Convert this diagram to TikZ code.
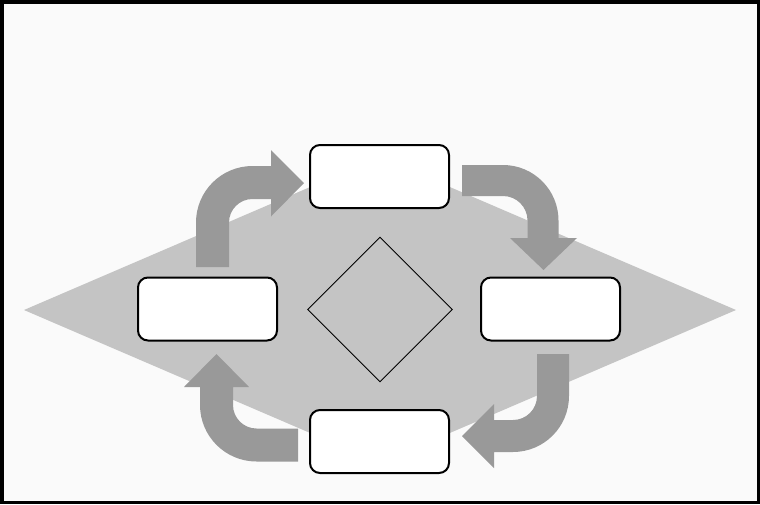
\documentclass[tikz,border=0pt]{standalone}
\usepackage{tikz}
\usetikzlibrary{shapes.geometric}

\definecolor{pagebg}{HTML}{FAFAFA}
\definecolor{rhombgray}{HTML}{C4C4C4}
\definecolor{arrowgray}{HTML}{999999}

\begin{document}
\begin{tikzpicture}[x=1pt, y=-1pt,
        stagebox/.style={draw=black, fill=white, line width=2pt, rounded corners=10pt,
            minimum width=139pt, minimum height=63pt, inner sep=0pt},
        bentarrow/.style={fill=arrowgray, draw=none}]
        \useasboundingbox (0, 0) rectangle (760, 504);
        \draw[line width=3.5pt, fill=pagebg] (1.75, 1.75) rectangle (758.25, 502.25);

        % big backdrop rhombus
        \fill[rhombgray] (24, 310) -- (380, 157) -- (736, 310) -- (380, 463) -- cycle;

        % four bent arrows
        \fill[bentarrow] (196, 267) -- (196, 222.5) arc (180:270:56.5) -- (271, 166) -- (271, 150)
            -- (304, 183) -- (271, 216.5) -- (271, 199) -- (252.5, 199) arc (270:180:23.5)
            -- (229, 267) -- cycle;
        \fill[bentarrow] (462, 165) -- (503, 165) arc (270:360:55.5) -- (558.5, 238) -- (577, 238)
            -- (543.5, 270) -- (510, 238) -- (527.5, 238) -- (527.5, 220.5) arc (0:-90:24.5)
            -- (462, 196) -- cycle;
        \fill[bentarrow] (569, 354) -- (569, 396) arc (0:90:56) -- (494, 452) -- (494, 468)
            -- (462, 436) -- (494, 404) -- (494, 420) -- (513, 420) arc (90:0:24)
            -- (537, 354) -- cycle;
        \fill[bentarrow] (298, 461.5) -- (256.5, 461.5) arc (90:180:56.5) -- (200, 387) -- (184, 387)
            -- (216.5, 354) -- (249, 387) -- (233, 387) -- (233, 405) arc (180:90:23.5)
            -- (298, 428.5) -- cycle;

        % stage boxes
        \node[stagebox] (top) at (379.5, 176.5) {};
        \node[stagebox] (left) at (207.5, 309) {};
        \node[stagebox] (right) at (550.5, 309) {};
        \node[stagebox] (bottom) at (379.5, 441.5) {};

        % centre diamond
        \node[draw=black, line width=0.9pt, diamond, aspect=1, inner sep=0pt,
            minimum width=145pt, minimum height=145pt] (core) at (380, 309.5) {};
    \end{tikzpicture}
\end{document}
